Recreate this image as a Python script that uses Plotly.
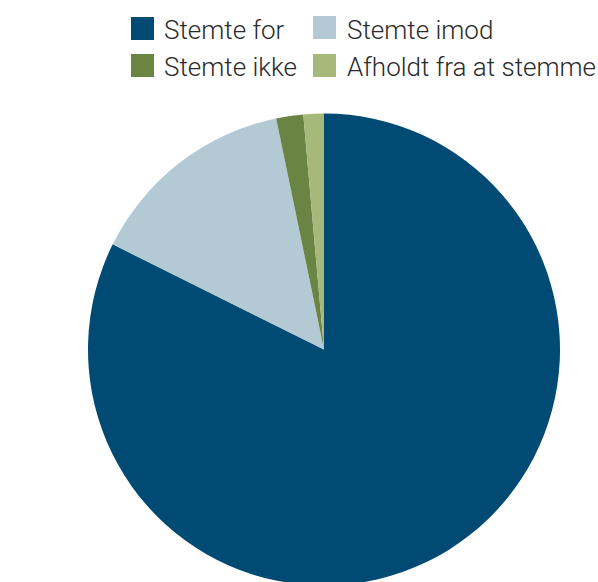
import plotly.graph_objects as go

labels = ["Stemte for", "Stemte imod", "Stemte ikke", "Afholdt fra at stemme"]
values = [82.35, 14.4, 1.85, 1.4]
colors = ["#004A73", "#B3CAD5", "#6A8444", "#A6B87A"]

W, H = 598, 590  # slightly taller than the window: the pie's bottom edge runs off the page
FONT = "Roboto"

cx, cy, r = 324, 349.5, 236
fig = go.Figure()
fig.add_trace(go.Pie(
    labels=labels, values=values, sort=False, direction="clockwise", rotation=0,
    marker=dict(colors=colors, line=dict(width=0)),
    textinfo="none", hoverinfo="label+percent", showlegend=False,
    domain=dict(x=[(2 * cx - W) / W, 1.0],
                y=[(H - (cy + r)) / H, (H - (cy - r)) / H]),
))

# manual legend (2 x 2 grid)
sq_x = [131, 313, 131, 313]
sq_y = [17, 16, 54, 54]
tx_x = [162, 345, 162, 345]
tx_y = [30, 30, 67, 67]
for i, lab in enumerate(labels):
    x0, y0 = sq_x[i], sq_y[i]
    fig.add_shape(type="rect", xref="paper", yref="paper",
                  x0=x0 / W, x1=(x0 + 23) / W, y0=1 - y0 / H, y1=1 - (y0 + 23) / H,
                  fillcolor=colors[i], line=dict(width=0))
    fig.add_annotation(xref="paper", yref="paper", x=tx_x[i] / W,
                       y=1 - tx_y[i] / H,
                       xanchor="left", yanchor="middle", showarrow=False, text=lab,
                       font=dict(family=FONT, size=26, color="#2a2a2a", weight=300))

fig.update_layout(
    width=W, height=H,
    margin=dict(l=0, r=0, t=0, b=0),
    paper_bgcolor="white", plot_bgcolor="white",
    font=dict(family=FONT),
)
fig.write_html("out.html", config={"displayModeBar": False},
               post_script="document.body.style.margin='0';document.body.style.overflow='hidden';")
